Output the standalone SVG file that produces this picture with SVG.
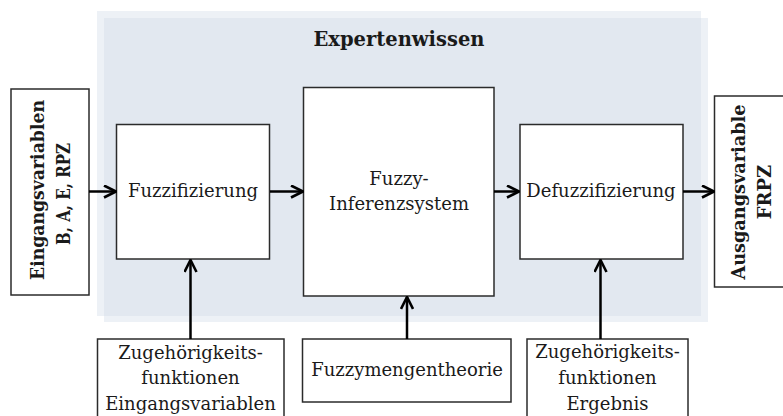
<svg xmlns="http://www.w3.org/2000/svg" width="783" height="416" viewBox="0 0 783 416">
  <style>
    .box { fill: #ffffff; stroke: #2b2b2b; stroke-width: 1.5; }
    .lbl { font-family: "DejaVu Serif", "Liberation Serif", serif; font-size: 18px; fill: #1a1a1a; text-anchor: middle; }
    .bold { font-weight: bold; }
    .conn { stroke: #000000; stroke-width: 2.5; fill: none; marker-end: url(#head); }
  </style>
  <defs>
    <marker id="head" viewBox="0 0 14 14" refX="13" refY="7" markerWidth="14" markerHeight="14" markerUnits="userSpaceOnUse" orient="auto">
      <path d="M1,1 L13,7 L1,13" fill="none" stroke="#000000" stroke-width="2.6"/>
    </marker>
  </defs>

  <!-- Expertenwissen panel with soft offset edge -->
  <g id="expertenwissen">
    <rect x="97" y="11" width="604" height="305" fill="#edf1f6"/>
    <rect x="104" y="18" width="604" height="304" fill="#edf1f6"/>
    <rect x="104" y="18" width="597" height="298" fill="#e2e8f0"/>
    <text class="lbl bold" x="399" y="46" style="font-size:19.5px">Expertenwissen</text>
  </g>

  <g id="eingang">
    <rect class="box" x="11" y="89" width="78" height="206"/>
    <text class="lbl bold" transform="translate(44,190) rotate(-90)" textLength="180" lengthAdjust="spacingAndGlyphs">Eingangsvariablen</text>
    <text class="lbl bold" transform="translate(70,194) rotate(-90)" textLength="102" lengthAdjust="spacingAndGlyphs">B, A, E, RPZ</text>
  </g>

  <g id="fuzzifizierung">
    <rect class="box" x="116.5" y="124.5" width="153" height="134.5"/>
    <text class="lbl" x="193" y="197">Fuzzifizierung</text>
  </g>

  <g id="inferenz">
    <rect class="box" x="303.5" y="87.5" width="190.5" height="208.5"/>
    <text class="lbl" x="399" y="185">Fuzzy-</text>
    <text class="lbl" x="399" y="210">Inferenzsystem</text>
  </g>

  <g id="defuzzifizierung">
    <rect class="box" x="520" y="124.5" width="163" height="134.5"/>
    <text class="lbl" x="601" y="197">Defuzzifizierung</text>
  </g>

  <g id="ausgang">
    <rect class="box" x="714.5" y="96" width="70" height="191"/>
    <text class="lbl bold" transform="translate(745,192) rotate(-90)" textLength="175" lengthAdjust="spacingAndGlyphs">Ausgangsvariable</text>
    <text class="lbl bold" transform="translate(771,192) rotate(-90)">FRPZ</text>
  </g>

  <g id="zf-eingang">
    <rect class="box" x="97.5" y="339" width="186.5" height="90"/>
    <text class="lbl" x="190.5" y="359">Zugehörigkeits-</text>
    <text class="lbl" x="190.5" y="384">funktionen</text>
    <text class="lbl" x="190.5" y="410">Eingangsvariablen</text>
  </g>

  <g id="mengentheorie">
    <rect class="box" x="302.5" y="339" width="208.5" height="63"/>
    <text class="lbl" x="407" y="376">Fuzzymengentheorie</text>
  </g>

  <g id="zf-ergebnis">
    <rect class="box" x="527" y="339" width="161" height="90"/>
    <text class="lbl" x="607.5" y="358">Zugehörigkeits-</text>
    <text class="lbl" x="607.5" y="384">funktionen</text>
    <text class="lbl" x="607.5" y="410">Ergebnis</text>
  </g>

  <g id="connectors">
    <line class="conn" x1="89" y1="191.5" x2="116" y2="191.5"/>
    <line class="conn" x1="270" y1="191.5" x2="303" y2="191.5"/>
    <line class="conn" x1="494" y1="191.5" x2="519" y2="191.5"/>
    <line class="conn" x1="683" y1="191.5" x2="714" y2="191.5"/>
    <line class="conn" x1="190.5" y1="339" x2="190.5" y2="260"/>
    <line class="conn" x1="407" y1="339" x2="407" y2="297"/>
    <line class="conn" x1="600.5" y1="339" x2="600.5" y2="260"/>
  </g>
</svg>
